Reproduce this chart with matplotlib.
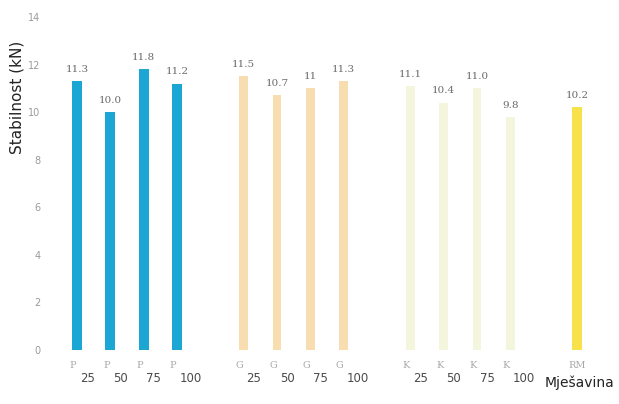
import matplotlib
matplotlib.use("Agg")
import matplotlib.pyplot as plt
import matplotlib.transforms as mtransforms

# data
letters = ["P", "P", "P", "P", "G", "G", "G", "G", "K", "K", "K", "K", "RM"]
subscripts = ["25", "50", "75", "100", "25", "50", "75", "100", "25", "50", "75", "100", ""]
positions = [0, 1, 2, 3, 5, 6, 7, 8, 10, 11, 12, 13, 15]
values = [11.3, 10.0, 11.8, 11.2, 11.5, 10.7, 11.0, 11.3, 11.1, 10.4, 11.0, 9.8, 10.2]
value_labels = ["11.3", "10.0", "11.8", "11.2", "11.5", "10.7", "11", "11.3",
                "11.1", "10.4", "11.0", "9.8", "10.2"]
group_colors = {"P": "#1ba6d3", "G": "#f8ddb0", "K": "#f3f5dc", "RM": "#f7e24c"}
group_widths = {"P": 0.30, "G": 0.26, "K": 0.26, "RM": 0.30}

W, H = 619, 404
fig = plt.figure(figsize=(W / 100, H / 100), dpi=100)
left, right, bottom, top = 60, 600, 54, 387
ax = fig.add_axes([left / W, bottom / H, (right - left) / W, (top - bottom) / H])

for pos, val, let in zip(positions, values, letters):
    ax.bar(pos, val, width=group_widths[let], color=group_colors[let], zorder=2)

for pos, val, lab in zip(positions, values, value_labels):
    ax.text(pos, val + 0.3, lab, ha="center", va="bottom", fontsize=7.5,
            color="#6a6a6a", family="DejaVu Serif",
            bbox=dict(boxstyle="square,pad=0.1", fc="white", ec="none"))

ax.set_xlim(-0.51, 15.69)
ax.set_ylim(0, 14)
ax.set_yticks(range(0, 15, 2))
ax.tick_params(axis="y", length=0, labelsize=7, labelcolor="#9a9a9a", pad=14)
ax.set_xticks([])
for s in ax.spines.values():
    s.set_visible(False)

# x tick labels: faint letter with darker subscript
trans = mtransforms.blended_transform_factory(ax.transData, fig.transFigure)
for pos, let, sub in zip(positions, letters, subscripts):
    if sub:
        ax.text(pos - 0.12, (H - 366) / H, let, transform=trans, ha="center", va="center",
                fontsize=7, color="#a8a8a8", family="DejaVu Serif")
        ax.text(pos + 0.08, (H - 378) / H, sub, transform=trans, ha="left", va="center",
                fontsize=8.5, color="#4a4a4a")
    else:
        ax.text(pos, (H - 366) / H, let, transform=trans, ha="center", va="center",
                fontsize=7, color="#a8a8a8", family="DejaVu Serif")

ax.set_ylabel("Stabilnost (kN)", fontsize=11, color="#222222")
ax.yaxis.set_label_coords(-0.066, 0.76)
fig.text(580 / W, (H - 383) / H, "Mješavina", ha="center", va="center",
         fontsize=10, color="#222222")

fig.savefig("out.png", dpi=100)
plt.close(fig)
